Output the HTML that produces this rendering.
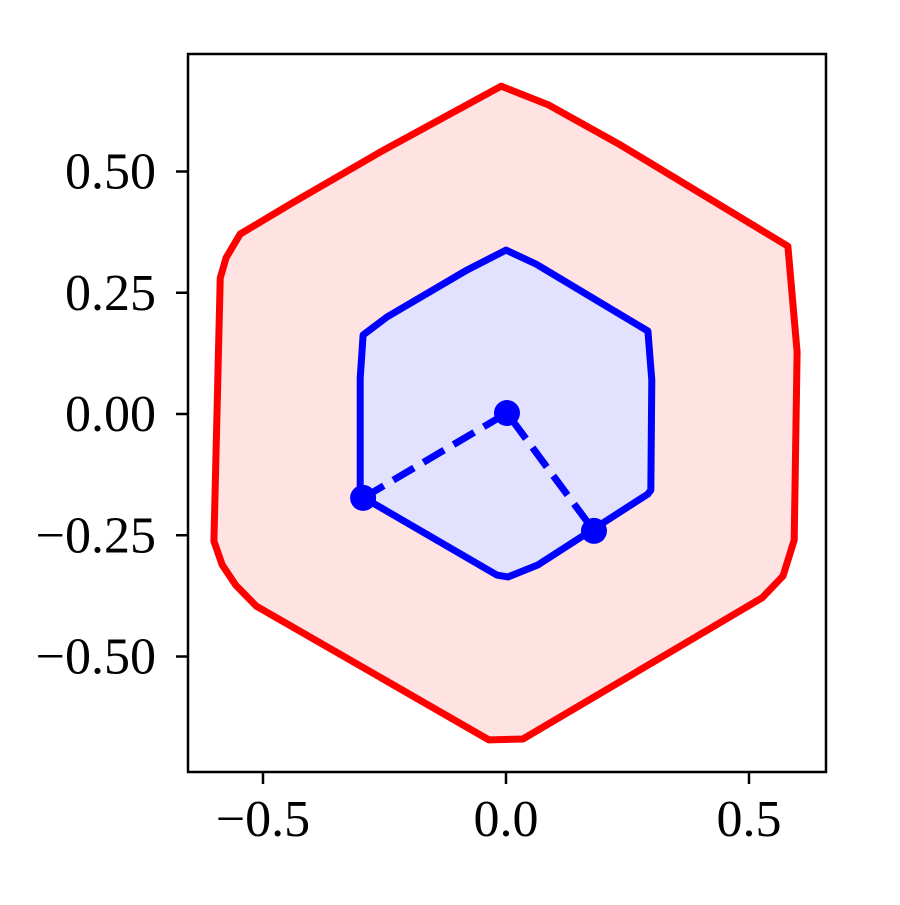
<!DOCTYPE html>
<html><head><meta charset="utf-8"><style>
html,body{margin:0;padding:0;background:#fff}
svg text{font-family:"Liberation Serif",serif;font-size:52px;fill:#000}
</style></head><body>
<svg id="chart" width="900" height="900" viewBox="0 0 900 900">
<g id="plot"></g>
</svg>
<script>
const redX=[-0.010,0.088,0.235,0.580,0.599,0.593,0.570,0.527,0.035,-0.035,-0.514,-0.556,-0.584,-0.601,-0.588,-0.576,-0.547,-0.440,-0.259];
const redY=[0.676,0.637,0.555,0.346,0.128,-0.260,-0.334,-0.379,-0.670,-0.672,-0.396,-0.353,-0.311,-0.262,0.280,0.322,0.371,0.435,0.540];
const blueX=[0,0.062,0.292,0.300,0.298,0.292,0.066,0.004,-0.019,-0.292,-0.300,-0.300,-0.294,-0.245,-0.080];
const blueY=[0.338,0.309,0.171,0.070,-0.157,-0.165,-0.311,-0.336,-0.332,-0.173,-0.157,0.074,0.163,0.200,0.297];
const dashX=[-0.294,0.002,0.181];
const dashY=[-0.173,0.002,-0.241];
const xTicks=[-0.5,0,0.5];
const xTickLabels=["−0.5","0.0","0.5"];
const yTicks=[0.5,0.25,0,-0.25,-0.5];
const yTickLabels=["0.50","0.25","0.00","−0.25","−0.50"];

const L=188,R=826,T=54,B=772;
const sx=v=>506+v*486;
const sy=v=>414-v*485;
const NS="http://www.w3.org/2000/svg";
const g=document.getElementById('plot');
function mk(tag,attrs){const e=document.createElementNS(NS,tag);for(const k in attrs)e.setAttribute(k,attrs[k]);g.appendChild(e);return e;}
const pts=(xs,ys)=>xs.map((x,i)=>sx(x)+','+sy(ys[i])).join(' ');

let e=mk('polygon',{points:pts(redX,redY),fill:'#ffe2e2',stroke:'#ff0000','stroke-width':7,'stroke-linejoin':'round'});


e=mk('polygon',{points:pts(blueX,blueY),fill:'#e2e2ff',stroke:'#0000ff','stroke-width':7,'stroke-linejoin':'round'});


e=mk('polyline',{points:pts(dashX,dashY),fill:'none',stroke:'#0000ff','stroke-width':7,'stroke-dasharray':'24,11'});


dashX.forEach((x,i)=>{
  const c=mk('circle',{cx:sx(x),cy:sy(dashY[i]),r:13,fill:'#0000ff'});
  
  
});
e=mk('rect',{x:L,y:T,width:R-L,height:B-T,fill:'none',stroke:'#000','stroke-width':2.5});


xTicks.forEach((v,i)=>{
  const t=mk('line',{x1:sx(v),x2:sx(v),y1:B,y2:B+12,stroke:'#000','stroke-width':2.5});
  
  
  const l=mk('text',{x:sx(v),y:B+64,'text-anchor':'middle'});
  l.textContent=xTickLabels[i];
  
  
});
yTicks.forEach((v,i)=>{
  const t=mk('line',{x1:L-12,x2:L,y1:sy(v),y2:sy(v),stroke:'#000','stroke-width':2.5});
  
  
  const l=mk('text',{x:L-32,y:sy(v)+17,'text-anchor':'end'});
  l.textContent=yTickLabels[i];
  
  
});
</script>
</body></html>
